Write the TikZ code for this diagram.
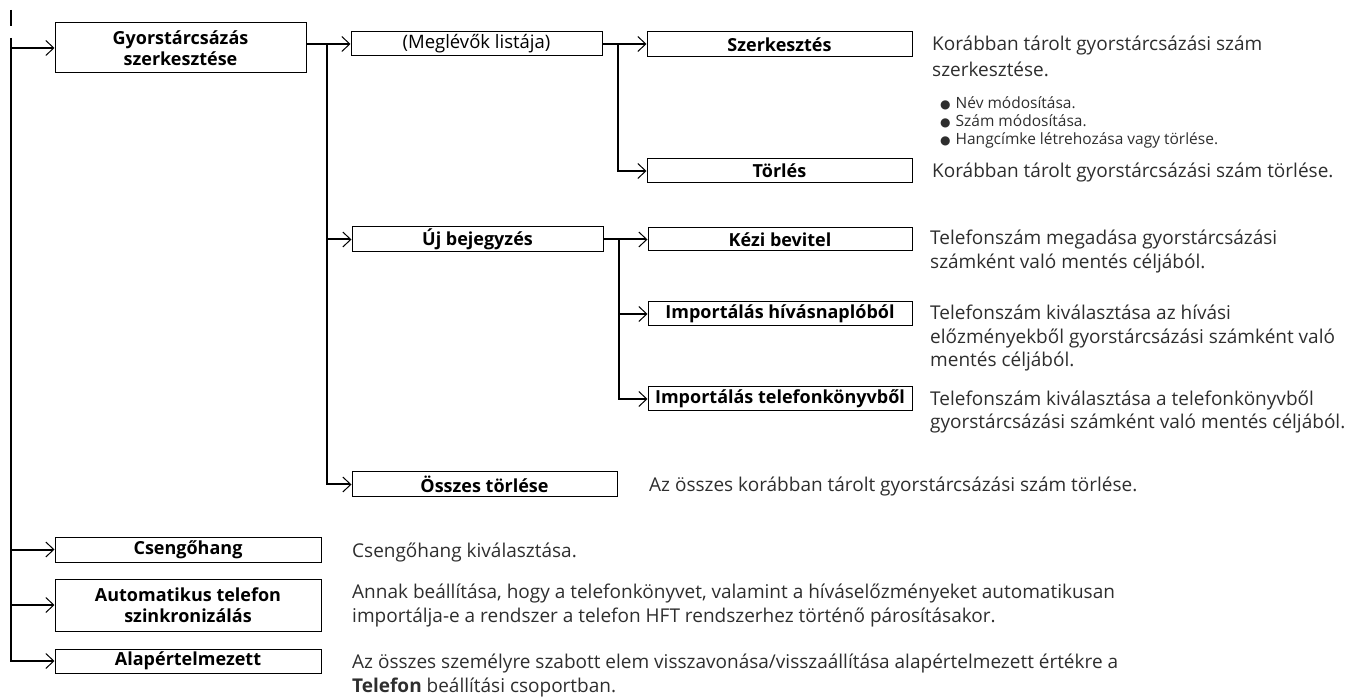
\documentclass[tikz,border=0pt]{standalone}
\usepackage{fontspec}
\setmainfont{Open Sans}
\newfontfamily\symfont{DejaVu Sans}
\usetikzlibrary{arrows.meta}
\definecolor{desccol}{gray}{0.18}
\begin{document}
\begin{tikzpicture}[x=1pt,y=-1pt,
  box/.style={draw, line width=1pt, inner sep=0pt, align=center,
    font=\bfseries\fontsize{18}{21}\selectfont},
  plainbox/.style={box, font=\fontsize{18.5}{21}\selectfont},
  conn/.style={line width=2pt},
  arr/.style={conn, -{Straight Barb[length=8pt,width=15pt,line width=1pt]}},
  desc/.style={anchor=base west, inner sep=0pt, text=desccol, font=\fontsize{19}{24}\selectfont},
  bul/.style={anchor=base west, inner sep=0pt, text=desccol, font=\fontsize{15.5}{18}\selectfont}]
\useasboundingbox (0,0) rectangle (1369,700);
% boxes
\node[box, minimum width=251pt, minimum height=50pt] (g) at (180.5,48) {Gyorstárcsázás\\szerkesztése};
\node[plainbox, minimum width=251pt, minimum height=24pt] (m) at (476.5,44) {(Meglévők listája)};
\node[box, minimum width=265pt, minimum height=25pt] (sz) at (779.5,44.5) {Szerkesztés};
\node[box, minimum width=265pt, minimum height=24pt] (t) at (779.5,171) {Törlés};
\node[box, minimum width=251pt, minimum height=25pt] (u) at (477.5,239.5) {Új bejegyzés};
\node[box, minimum width=264pt, minimum height=23pt] (k) at (780,239.5) {Kézi bevitel};
\node[box, minimum width=264pt, minimum height=24pt] (h) at (780,314) {Importálás hívásnaplóból};
\node[box, minimum width=264pt, minimum height=24pt] (tk) at (780,399) {Importálás telefonkönyvből};
\node[box, minimum width=265pt, minimum height=25pt] (o) at (484.5,484.5) {Összes törlése};
\node[box, minimum width=266pt, minimum height=25pt] (c) at (188,549.5) {Csengőhang};
\node[box, minimum width=266pt, minimum height=52pt] (a) at (188,605) {Automatikus telefon\\szinkronizálás};
\node[box, minimum width=266pt, minimum height=24pt] (al) at (188,661) {Alapértelmezett};
% connectors
\coordinate (tick1) at (11,10);
\coordinate (tick2) at (11,26);
\draw[conn] (tick1) -- (tick2);
\coordinate (top) at (11,38);
\draw[arr] (top) |- (al.west);
\draw[arr] (top |- g.west) -- (g.west);
\draw[arr] (top |- c.west) -- (c.west);
\draw[arr] (top |- a.west) -- (a.west);
\draw[arr] (g.east |- m.west) -- (m.west);
\coordinate (t2) at (327,44);
\draw[arr] (t2) |- (o.west);
\draw[arr] (t2 |- u.west) -- (u.west);
\draw[arr] (m.east) -- (m.east -| sz.west);
\coordinate (t3) at (618,44);
\draw[arr] (t3) |- (t.west);
\draw[arr] (u.east) -- (u.east -| k.west);
\coordinate (t4) at (619,239.5);
\draw[arr] (t4) |- (tk.west);
\draw[arr] (t4 |- h.west) -- (h.west);
% descriptions
\node[desc] (d1a) at (932,50.5) {Korábban tárolt gyorstárcsázási szám};
\node[desc] (d1b) at (932,77) {szerkesztése.};
\node[bul] (b1) at (940,108.5) {{\symfont\fontsize{12}{12}\selectfont ●}\hspace{5pt}Név módosítása.};
\node[bul] (b2) at (940,126.5) {{\symfont\fontsize{12}{12}\selectfont ●}\hspace{5pt}Szám módosítása.};
\node[bul] (b3) at (940,144.5) {{\symfont\fontsize{12}{12}\selectfont ●}\hspace{5pt}Hangcímke létrehozása vagy törlése.};
\node[desc] (d2) at (932,177.5) {Korábban tárolt gyorstárcsázási szám törlése.};
\node[desc] (d3a) at (930,244.5) {Telefonszám megadása gyorstárcsázási};
\node[desc] (d3b) at (930,268.5) {számként való mentés céljából.};
\node[desc] (d4a) at (930,319.5) {Telefonszám kiválasztása az hívási};
\node[desc] (d4b) at (930,343.5) {előzményekből gyorstárcsázási számként való};
\node[desc] (d4c) at (930,367) {mentés céljából.};
\node[desc] (d5a) at (930,405.5) {Telefonszám kiválasztása a telefonkönyvből};
\node[desc] (d5b) at (930,429) {gyorstárcsázási számként való mentés céljából.};
\node[desc] (d6) at (649,491.5) {Az összes korábban tárolt gyorstárcsázási szám törlése.};
\node[desc] (d7) at (352,557.5) {Csengőhang kiválasztása.};
\node[desc] (d8a) at (352,598) {Annak beállítása, hogy a telefonkönyvet, valamint a híváselőzményeket automatikusan};
\node[desc] (d8b) at (352,622) {importálja-e a rendszer a telefon HFT rendszerhez történő párosításakor.};
\node[desc] (d9a) at (352,668) {Az összes személyre szabott elem visszavonása/visszaállítása alapértelmezett értékre a};
\node[desc] (d9b) at (352,692) {\textbf{Telefon} beállítási csoportban.};
\end{tikzpicture}
\end{document}
